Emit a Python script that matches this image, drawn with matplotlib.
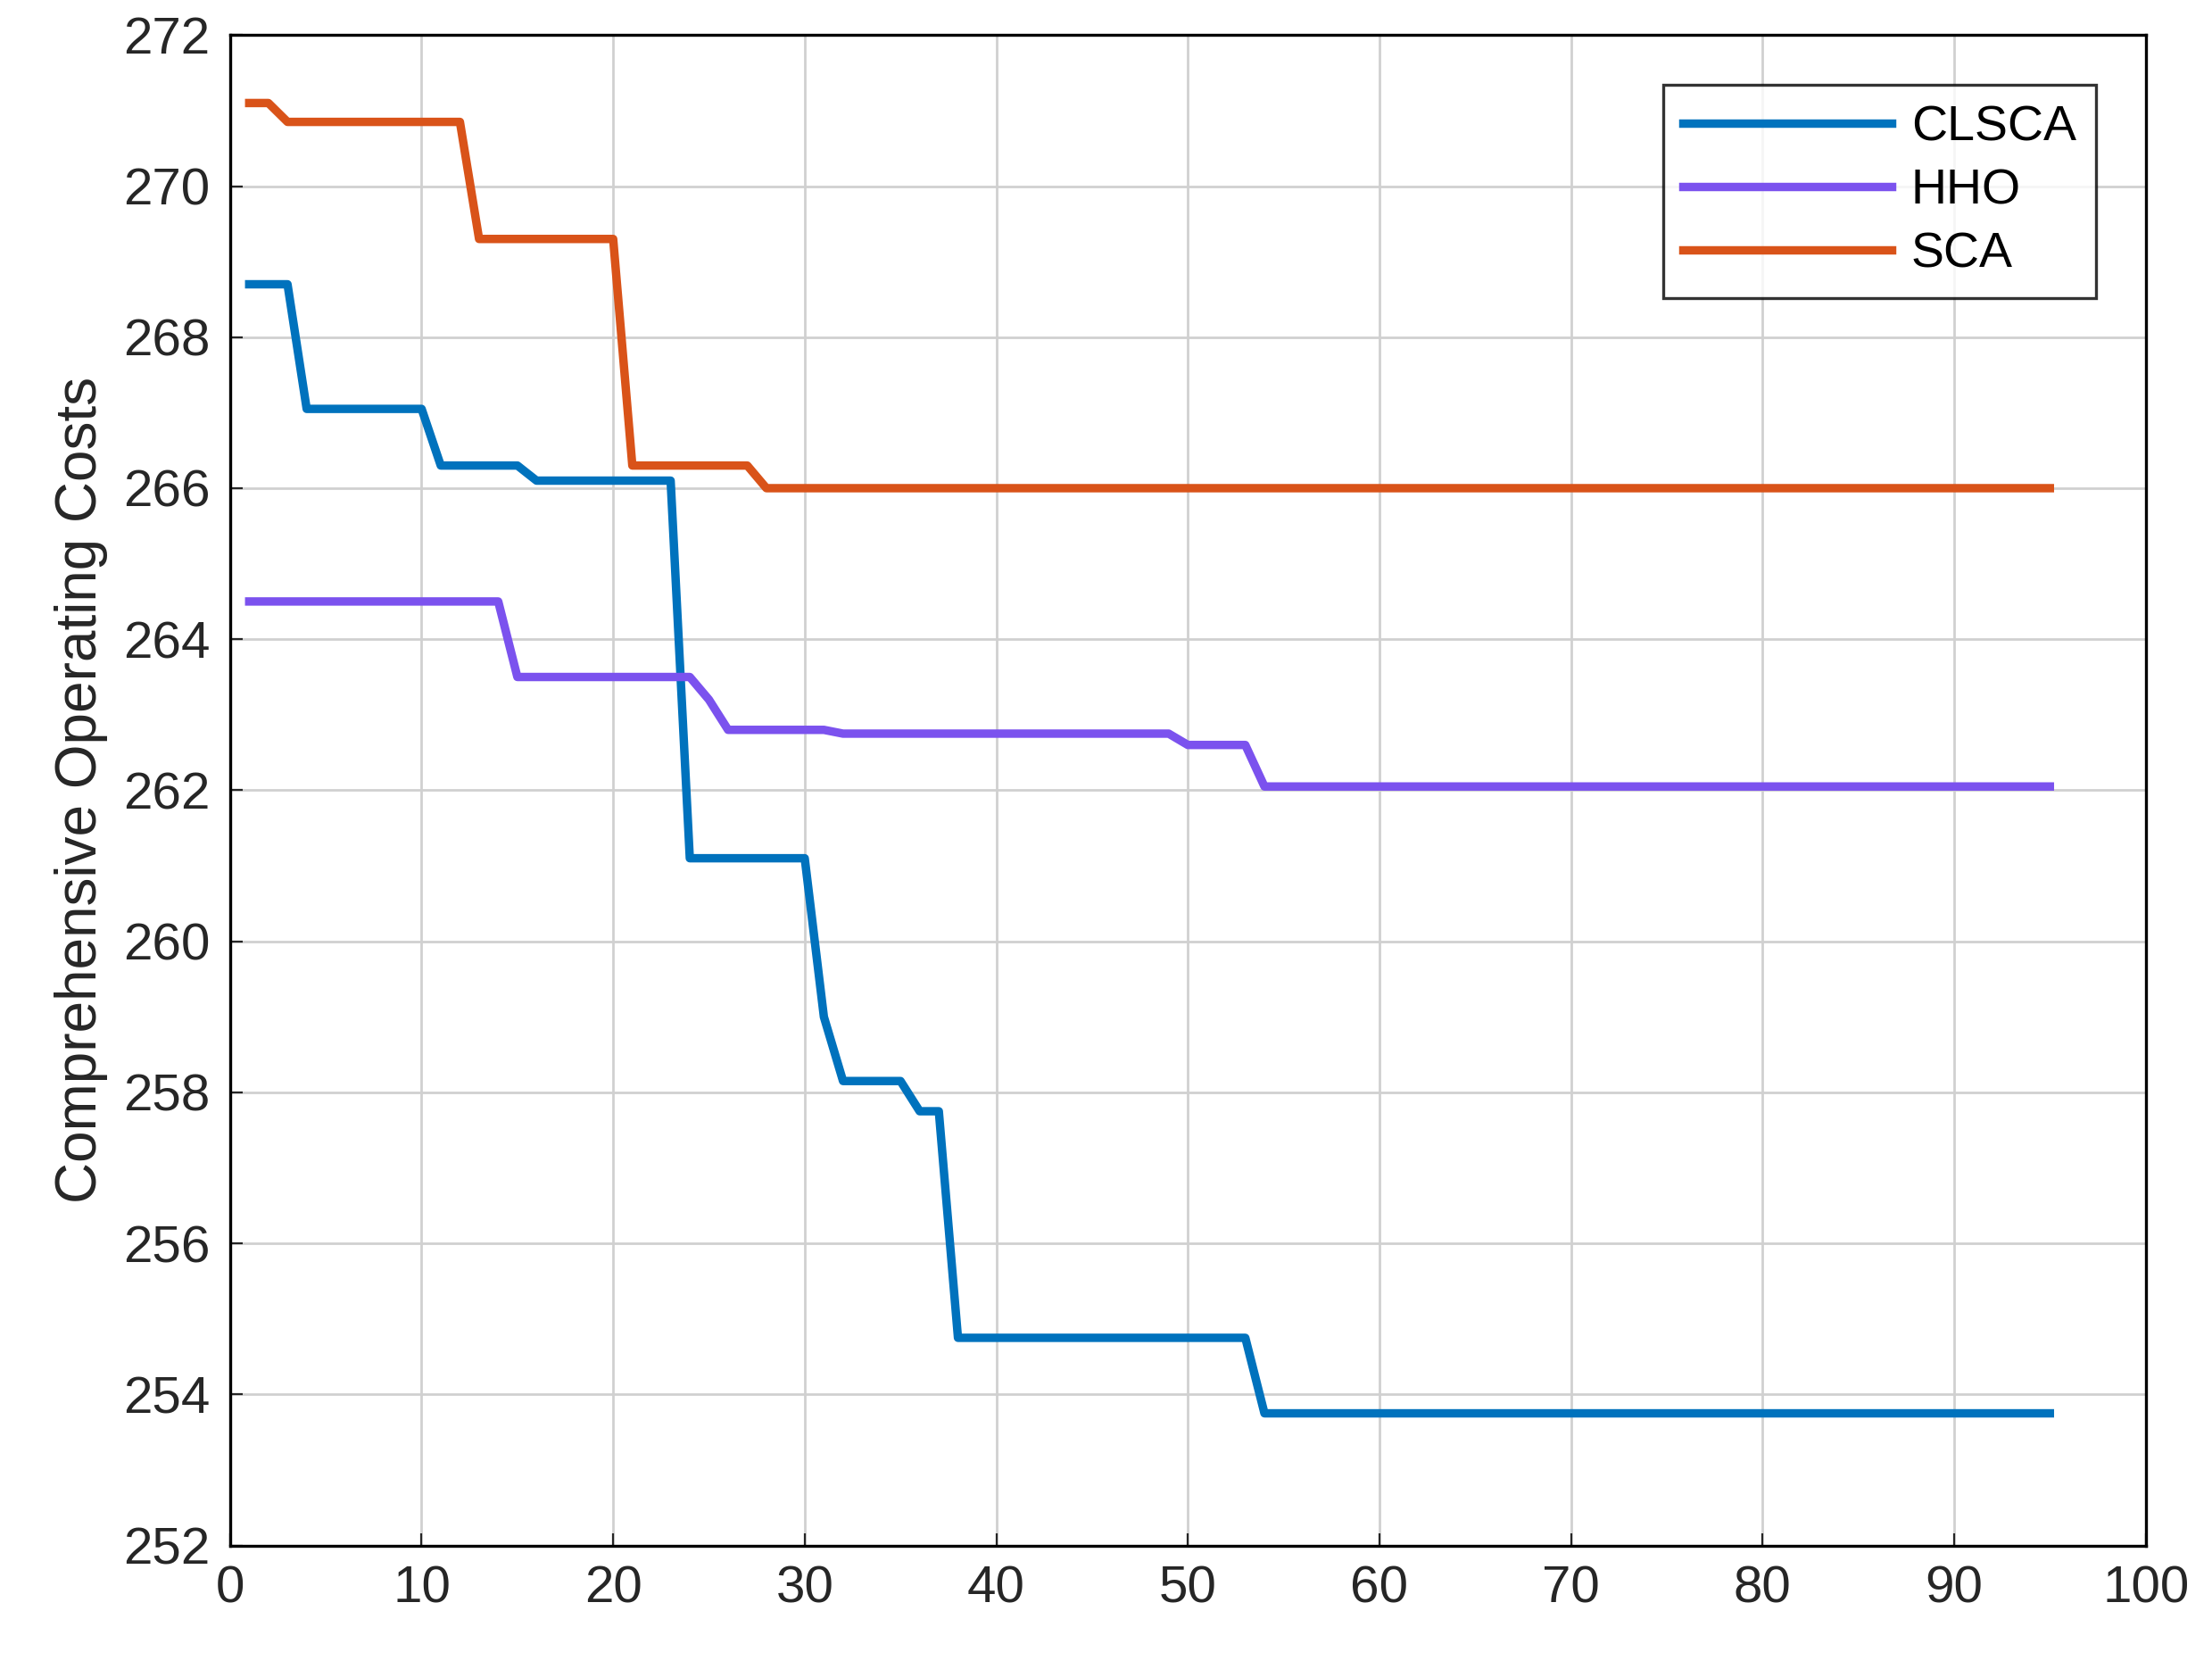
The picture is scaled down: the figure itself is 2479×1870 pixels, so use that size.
import matplotlib.pyplot as plt
import numpy as np

iterations = np.arange(1, 96)

clsca = ([268.7] * 3 + [267.05] * 7 + [266.3] * 5 + [266.1] * 8 + [261.1] * 7
         + [259.0] + [258.15] * 4 + [257.75] * 2 + [254.75] * 16 + [253.75] * 42)
hho = ([264.5] * 14 + [263.5] * 10 + [263.2] + [262.8] * 6 + [262.75] * 18
       + [262.6] * 4 + [262.05] * 42)
sca = [271.1] * 2 + [270.85] * 10 + [269.3] * 8 + [266.3] * 7 + [266.0] * 68

series = [('CLSCA', clsca, '#0072BD'), ('HHO', hho, '#7B52EE'), ('SCA', sca, '#D95319')]

plt.rcParams['font.family'] = ['Liberation Sans', 'DejaVu Sans']
fig = plt.figure(figsize=(12.395, 9.35), dpi=200)
ax = fig.add_axes([0.104, 0.074, 0.866, 0.905])

for name, vals, color in series:
    ax.plot(iterations, vals, color=color, linewidth=3.4, label=name)

ax.set_xlim(0, 100)
ax.set_ylim(252, 272)
ax.set_xticks(np.arange(0, 101, 10))
ax.set_yticks(np.arange(252, 273, 2))
ax.grid(True, color='#d0d0d0', linewidth=1)
ax.tick_params(labelsize=21, direction='in', length=5, colors='#262626', pad=8)
for s in ax.spines.values():
    s.set_linewidth(1.2)
ax.set_ylabel('Comprehensive Operating Costs', fontsize=23, color='#262626', labelpad=6)
leg = ax.legend(loc='upper right', fontsize=20, fancybox=False, edgecolor='black',
                handlelength=4.2, borderaxespad=1.0, labelspacing=0.35,
                handletextpad=0.4, borderpad=0.4)
leg.get_frame().set_linewidth(1.2)

fig.savefig('out.png', dpi=200)
